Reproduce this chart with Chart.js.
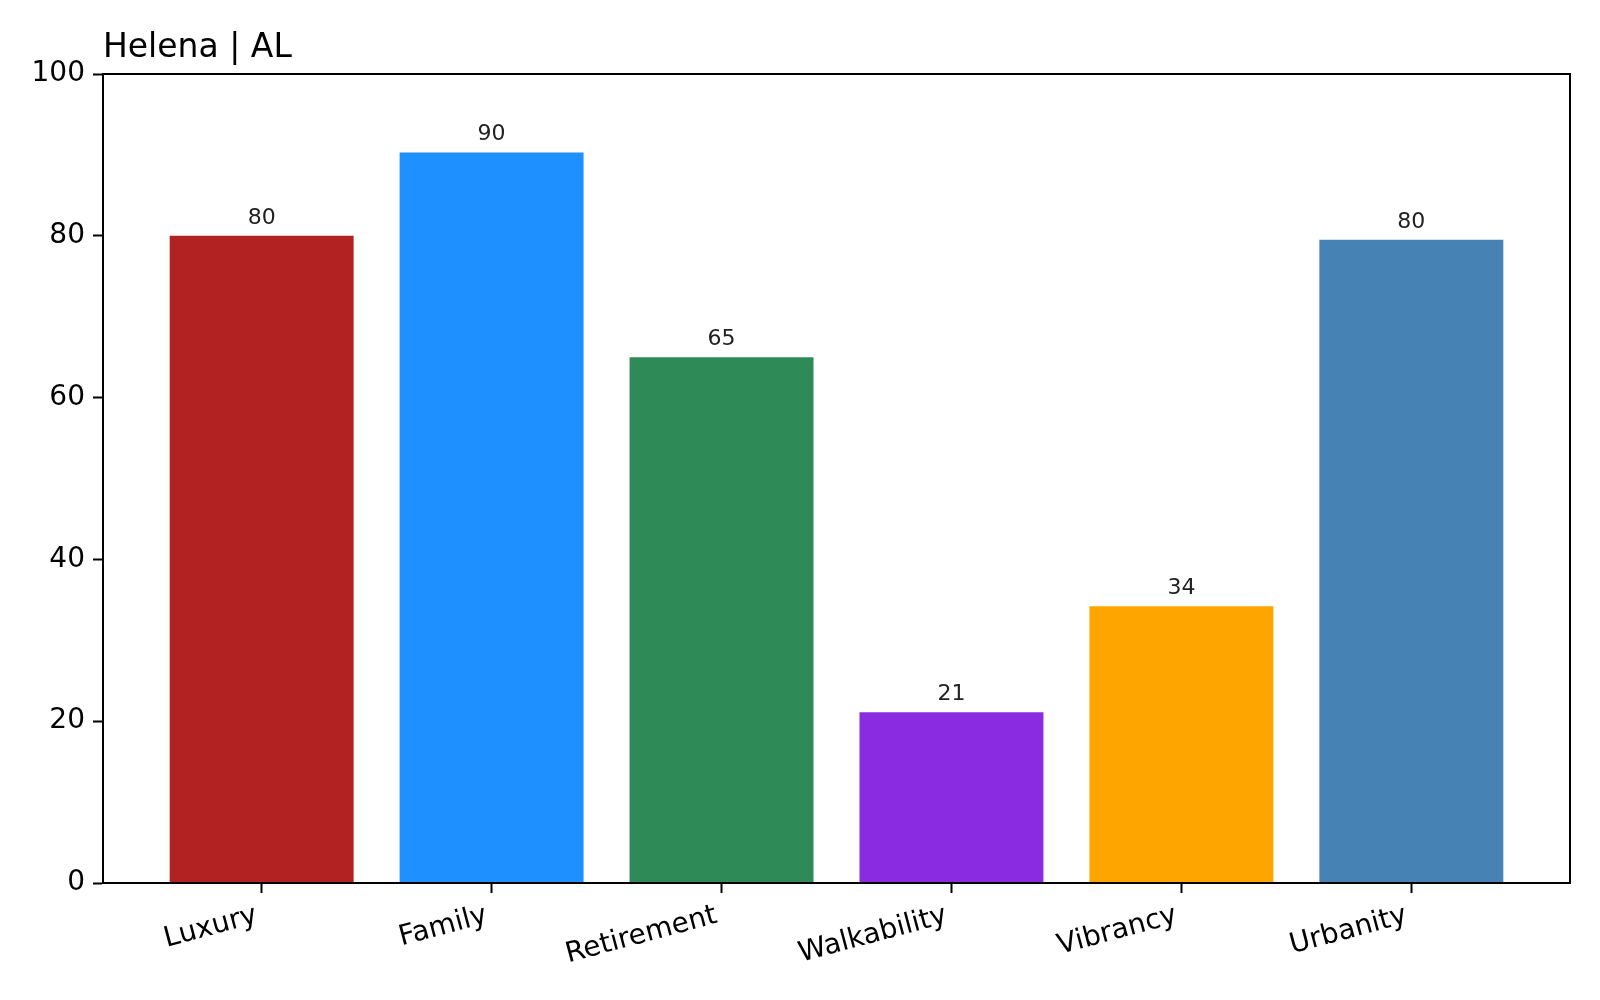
<!DOCTYPE html>
<html>
<head>
<meta charset="utf-8">
<script src="https://cdn.jsdelivr.net/npm/chart.js@4"></script>
<style>
  html, body { margin: 0; padding: 0; background: #fff; }
  #wrap { width: 1600px; height: 1000px; }
</style>
</head>
<body>
<div id="wrap"><canvas id="myChart" width="1600" height="1000"></canvas></div>
<script>
// data
const categories = ['Luxury', 'Family', 'Retirement', 'Walkability', 'Vibrancy', 'Urbanity'];
const scores = [80, 90.3, 65, 21.1, 34.2, 79.5];
const barColors = ['#B22222', '#1E90FF', '#2E8B57', '#8A2BE2', '#FFA500', '#4682B4'];
const yTicks = [0, 20, 40, 60, 80, 100];
const chartTitle = 'Helena | AL';

const FONT = "'DejaVu Sans', sans-serif";

// frame around the plot, title on the left, value labels over the bars
const framePlugin = {
    id: 'frame',
    afterDraw(chart) {
        const c = chart.ctx;
        const a = chart.chartArea;
        c.save();
        c.strokeStyle = '#000';
        c.lineWidth = 2;
        c.strokeRect(a.left, a.top, a.right - a.left, a.bottom - a.top);

        c.fillStyle = '#000';
        c.font = '33px ' + FONT;
        c.textAlign = 'left';
        c.textBaseline = 'alphabetic';
        c.fillText(chartTitle, a.left, 57);

        c.font = '22px ' + FONT;
        c.fillStyle = '#222';
        c.textAlign = 'center';
        const meta = chart.getDatasetMeta(0);
        meta.data.forEach(function (bar, i) {
            c.fillText(String(Math.round(scores[i])), bar.x, bar.y - 12);
        });
        c.restore();
    }
};

const ctx = document.getElementById('myChart').getContext('2d');
const myChart = new Chart(ctx, {
    type: 'bar',
    data: {
        datasets: [{
            data: scores.map(function (v, i) { return { x: i, y: v }; }),
            backgroundColor: barColors,
            borderWidth: 0,
            categoryPercentage: 0.8,
            barPercentage: 1.0
        }]
    },
    options: {
        responsive: false,
        animation: false,
        devicePixelRatio: 1,
        layout: { padding: { top: 74, right: 30, left: 0, bottom: 0 } },
        plugins: {
            legend: { display: false },
            tooltip: { enabled: false }
        },
        scales: {
            x: {
                type: 'linear',
                offset: false,
                min: -0.69,
                max: 5.69,
                afterBuildTicks: function (scale) {
                    scale.ticks = categories.map(function (c, i) { return { value: i }; });
                },
                afterFit: function (scale) { scale.height = 117; },
                grid: {
                    offset: false,
                    drawOnChartArea: false,
                    drawTicks: true,
                    tickLength: 10,
                    tickWidth: 2,
                    color: '#000'
                },
                border: { display: true, color: '#000', width: 2 },
                ticks: {
                    autoSkip: false,
                    minRotation: 15,
                    maxRotation: 15,
                    padding: 6,
                    labelOffset: -5,
                    color: '#000',
                    font: { family: FONT, size: 28 },
                    callback: function (value) { return categories[value]; }
                }
            },
            y: {
                min: 0,
                max: 100,
                afterBuildTicks: function (scale) {
                    scale.ticks = yTicks.map(function (v) { return { value: v }; });
                },
                afterFit: function (scale) { scale.width = 103; },
                grid: {
                    drawOnChartArea: false,
                    drawTicks: true,
                    tickLength: 10,
                    tickWidth: 2,
                    color: '#000'
                },
                border: { display: true, color: '#000', width: 2 },
                ticks: {
                    padding: 8,
                    color: '#000',
                    font: { family: FONT, size: 28 }
                }
            }
        }
    },
    plugins: [framePlugin]
});
</script>
</body>
</html>
